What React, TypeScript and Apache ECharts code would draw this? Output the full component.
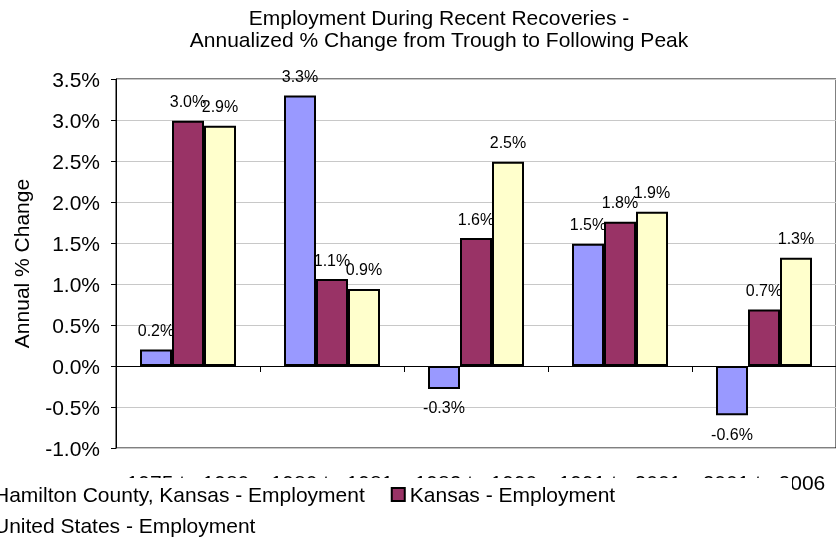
import React, { useEffect, useRef } from "react";
import * as echarts from "echarts";

const categories = ["1975 to 1980", "1980 to 1981", "1982 to 1990", "1991 to 2001", "2001 to 2006"];
const seriesNames = ["Hamilton County, Kansas - Employment", "Kansas - Employment", "United States - Employment"];
const hamilton = [0.2, 3.3, -0.28, 1.49, -0.6];
const kansas = [2.99, 1.06, 1.56, 1.76, 0.69];
const unitedStates = [2.93, 0.94, 2.49, 1.88, 1.32];
const colors = ["#9999FF", "#993366", "#FFFFCC"];

const FONT = "Liberation Sans, Arial, sans-serif";

export default function App() {
  const ref = useRef<HTMLDivElement>(null);
  useEffect(() => {
    if (!ref.current) return;
    const chart = echarts.init(ref.current, null, { renderer: "svg" });
    const values = [hamilton, kansas, unitedStates];
    const series = values.map((vals, i) => ({
      name: seriesNames[i],
      type: "bar",
      xAxisIndex: 0,
      yAxisIndex: 0,
      barWidth: 32,
      barGap: "0%",
      itemStyle: { color: colors[i], borderColor: "#000", borderWidth: 2 },
      label: {
        show: true,
        distance: 11,
        fontSize: 16,
        color: "#000",
        fontFamily: FONT,
        formatter: (p: any) => p.value.toFixed(1) + "%",
      },
      data: vals.map((v) => ({ value: v, label: { position: v < 0 ? "bottom" : "top" } })),
    }));
    chart.setOption({
      animation: false,
      textStyle: { fontFamily: FONT },
      title: {
        text: "Employment During Recent Recoveries -\nAnnualized % Change from Trough to Following Peak",
        left: 434,
        top: 1,
        textAlign: "center",
        textStyle: { fontSize: 21, fontWeight: "normal", color: "#000", lineHeight: 22.5, fontFamily: FONT },
      },
      grid: {
        left: 116,
        top: 79,
        right: -6,
        bottom: 92,
        show: true,
        borderColor: "#000",
        borderWidth: 1,
        backgroundColor: "transparent",
      },
      xAxis: [
        {
          type: "category",
          data: categories,
          position: "bottom",
          axisLine: { show: false, onZero: false },
          axisTick: { show: false },
          axisLabel: { fontSize: 21, color: "#000", margin: 24, interval: 0, fontFamily: FONT },
          splitLine: { show: false },
        },
        {
          type: "category",
          data: categories,
          position: "bottom",
          axisLine: { show: true, onZero: true, lineStyle: { color: "#000", width: 1 } },
          axisTick: { show: true, length: 6, lineStyle: { color: "#000" } },
          axisLabel: { show: false },
          splitLine: { show: false },
        },
      ],
      yAxis: {
        type: "value",
        min: -1,
        max: 3.5,
        interval: 0.5,
        name: "Annual % Change",
        nameLocation: "middle",
        nameGap: 84,
        nameTextStyle: { fontSize: 21, color: "#000", fontFamily: FONT },
        axisLine: { show: true, lineStyle: { color: "#000" } },
        axisTick: { show: true, length: 5, lineStyle: { color: "#000" } },
        axisLabel: {
          fontSize: 21,
          color: "#000",
          margin: 16,
          fontFamily: FONT,
          formatter: (v: number) => v.toFixed(1) + "%",
        },
        splitLine: { show: true, lineStyle: { color: "#c8c8c8", width: 1 } },
      },
      graphic: [
        {
          type: "rect",
          z: 100,
          shape: { x: -10, y: 478, width: 802, height: 80 },
          style: { fill: "#fff" },
        },
      ],
      legend: [
        {
          data: seriesNames.slice(0, 2),
          left: -25,
          top: 484,
          padding: 0,
          itemGap: 26,
          itemWidth: 13,
          itemHeight: 13,
          icon: "rect",
          z: 200,
          textStyle: { fontSize: 21, color: "#000", fontFamily: FONT },
        },
        {
          data: seriesNames.slice(2),
          left: -25,
          top: 515,
          padding: 0,
          itemWidth: 13,
          itemHeight: 13,
          icon: "rect",
          z: 200,
          textStyle: { fontSize: 21, color: "#000", fontFamily: FONT },
        },
      ],
      series,
    });
    return () => chart.dispose();
  }, []);
  return <div ref={ref} style={{ position: "fixed", left: 0, top: 0, width: 836, height: 540 }} />;
}
